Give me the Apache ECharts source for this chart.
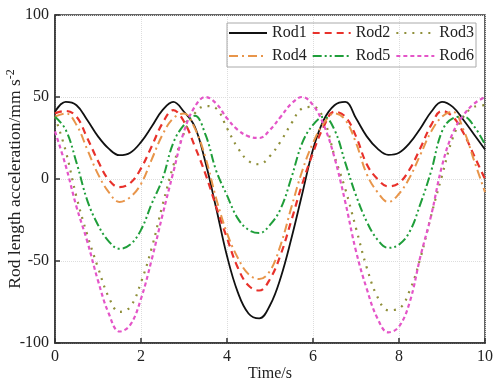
<!DOCTYPE html>
<html>
<head>
<meta charset="utf-8">
<script src="https://cdn.jsdelivr.net/npm/echarts@6/dist/echarts.min.js"></script>
<style>
  html, body { margin: 0; padding: 0; background: #fff; }
  #main { width: 500px; height: 388px; }
</style>
</head>
<body>
<div id="main"></div>
<script>
// time samples (s)
var times = [0, 0.25, 0.5, 0.75, 1, 1.25, 1.5, 1.75, 2, 2.25, 2.5, 2.75,
  3, 3.25, 3.5, 3.75, 4, 4.25, 4.5, 4.75, 5, 5.25, 5.5, 5.75,
  6, 6.25, 6.5, 6.75, 7, 7.25, 7.5, 7.75, 8, 8.25, 8.5, 8.75,
  9, 9.25, 9.5, 9.75, 10];

// rod length acceleration (mm s^-2)
var rod1 = [41, 47, 45, 36, 26, 18.5, 14.5, 16, 22.5, 32, 42, 47,
  41, 32, 10, -18, -47, -69, -82, -85, -77, -60, -36, -9,
  18, 36, 45, 47, 37, 26, 18.5, 14.7, 16, 22, 31, 41,
  47, 44, 36, 27, 18];
var rod2 = [40, 41.5, 38, 25, 11, -0.5, -5, -2.5, 6.5, 20, 34, 42,
  35, 20, 3, -17, -36, -54, -65, -68, -61, -46, -25, -3,
  16, 32, 41, 38, 26, 9, 0, -4.5, -2.5, 6, 19, 33,
  41.5, 38, 28, 14, 0];
var rod3 = [38, 17, -11, -34, -54, -72, -81, -78, -63, -42, -16, 8,
  28, 40, 44.5, 43, 31, 19, 11, 9, 14, 23, 34, 43,
  44, 36.5, 14, -6, -30, -54, -72, -80, -79, -68, -48, -22,
  2, 25, 38, 44, 45];
var rod4 = [38, 40, 33, 18, 3, -8, -14, -11, -3, 12, 27, 37,
  40, 31, 13, -12, -33, -48, -58, -61, -56, -40, -17, 5,
  22, 34, 40, 36, 22, 3, -8, -14, -9, 1, 15, 29,
  38, 41, 30, 11, -8];
var rod5 = [38, 30, 10, -13, -28, -38, -42.5, -40, -31, -15, 0, 22,
  33, 38.5, 27, 5, -10, -24, -31, -33, -28, -18, 1, 22,
  33, 38, 30, 10, -10, -26, -37, -42, -40, -32, -15, 5,
  29, 37, 38, 32, 21];
var rod6 = [29, 8, -17, -38, -62, -82, -93, -89, -73, -49, -22, 4,
  29, 44, 50, 46, 37, 30, 26, 25, 30, 38, 46, 50,
  45, 33, 13, -14, -44, -67, -85, -93.5, -90, -75, -47, -22,
  8, 28, 39, 46, 50];

var names = ['Rod1', 'Rod2', 'Rod3', 'Rod4', 'Rod5', 'Rod6'];
var values = [rod1, rod2, rod3, rod4, rod5, rod6];
var colors = ['#111111', '#e8312b', '#8f8f3a', '#e8954a', '#1f9e3a', '#e455c8'];
var dashes = ['solid', [7, 5], [2, 6], [9, 4, 2, 4], [9, 3, 2, 3, 2, 3], [4, 3]];
var widths = [1.8, 2.2, 2.2, 2, 2, 2.2];

var font = 'Liberation Serif';

var series = names.map(function (n, k) {
  return {
    name: n,
    type: 'line',
    symbol: 'none',
    smooth: 0.4,
    color: colors[k],
    lineStyle: { color: colors[k], width: widths[k], type: dashes[k] },
    data: times.map(function (t, i) { return [t, values[k][i]]; })
  };
});

var legendBase = {
  padding: 0,
  itemWidth: 38, itemHeight: 14, itemGap: 5,
  itemStyle: { opacity: 0 },
  textStyle: { fontFamily: font, fontSize: 16, color: '#222' }
};

var chart = echarts.init(document.getElementById('main'));
chart.setOption({
  animation: false,
  backgroundColor: '#fff',
  grid: {
    left: 55, right: 15, top: 15, bottom: 45,
    outerBoundsMode: 'none',
    containLabel: false,
    show: true, borderColor: '#333', borderWidth: 1.5
  },
  legend: [
    Object.assign({ data: ['Rod1', 'Rod2', 'Rod3'], left: 228, top: 25 }, legendBase),
    Object.assign({ data: ['Rod4', 'Rod5', 'Rod6'], left: 228, top: 48 }, legendBase)
  ],
  graphic: [{
    type: 'rect',
    shape: { x: 227, y: 23, width: 249, height: 44 },
    style: { fill: 'transparent', stroke: '#aaa', lineWidth: 1 },
    z: 1
  }],
  xAxis: {
    type: 'value',
    min: 0, max: 10, interval: 2,
    name: 'Time/s',
    nameLocation: 'middle',
    nameGap: 23,
    nameMoveOverlap: false,
    nameTextStyle: { fontFamily: font, fontSize: 16, color: '#222' },
    axisLine: { onZero: false, lineStyle: { color: '#333', width: 1.5 } },
    axisTick: { inside: true, length: 5, lineStyle: { color: '#333', width: 1.5 } },
    axisLabel: { fontFamily: font, fontSize: 16, color: '#222', margin: 6 },
    splitLine: { show: true, lineStyle: { color: '#ddd', type: 'dotted' } }
  },
  yAxis: {
    type: 'value',
    min: -100, max: 100, interval: 50,
    name: '{a|Rod length acceleration/mm s}{s|-2}',
    nameLocation: 'middle',
    nameGap: 29,
    nameMoveOverlap: false,
    nameTextStyle: {
      fontFamily: font, fontSize: 17.5, color: '#222',
      rich: {
        a: { fontFamily: font, fontSize: 17.5, color: '#222' },
        s: { fontFamily: font, fontSize: 12, color: '#222', padding: [0, 0, 9, 0] }
      }
    },
    axisLine: { onZero: false, lineStyle: { color: '#333', width: 1.5 } },
    axisTick: { inside: true, length: 5, lineStyle: { color: '#333', width: 1.5 } },
    axisLabel: { fontFamily: font, fontSize: 16, color: '#222', margin: 6 },
    splitLine: { show: true, lineStyle: { color: '#ddd', type: 'dotted' } }
  },
  series: series
});
</script>
</body>
</html>
